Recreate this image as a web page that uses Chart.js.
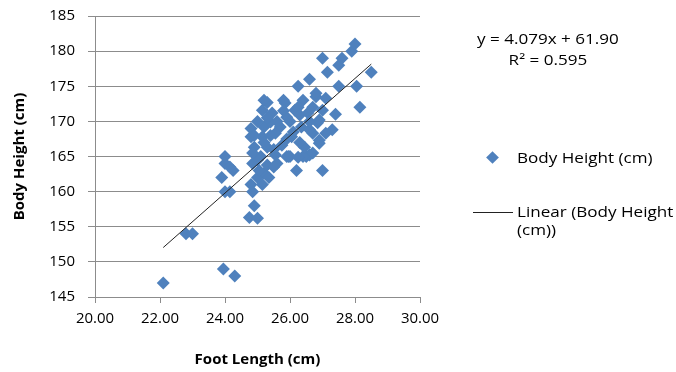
<!DOCTYPE html>
<html>
<head>
<meta charset="utf-8">
<script src="https://cdn.jsdelivr.net/npm/chart.js@4"></script>
<style>
  body { margin: 0; background: #fff; }
  #wrap { position: relative; width: 676px; height: 372px; font-family: "Open Sans", sans-serif; color: #000; }
  canvas { position: absolute; left: 0; top: 0; }
  .txt { position: absolute; font-size: 14px; line-height: 18px; white-space: nowrap; transform: scaleX(1.22); transform-origin: 0 0; }
  #equacao { left: 477px; top: 28px; text-align: center; line-height: 21px; }
  #legPonto { left: 488px; top: 153px; width: 9px; height: 9px; background: #4F81BD; transform: rotate(45deg); position: absolute; }
  #legLinha { left: 473px; top: 212px; width: 40px; height: 1px; background: #222; position: absolute; }
</style>
</head>
<body>
<div id="wrap">
  <canvas id="grafico" width="676" height="372"></canvas>
  <div class="txt" id="equacao">y = 4.079x + 61.90<br>R² = 0.595</div>
  <div id="legPonto"></div>
  <div class="txt" style="left:517px; top:149px;">Body Height (cm)</div>
  <div id="legLinha"></div>
  <div class="txt" style="left:517px; top:203px;">Linear (Body Height<br>(cm))</div>
</div>
<script>
// comprimento do pe (cm)
const comprimentoPe = [
  22.1, 22.8, 23.0, 23.95, 24.3, 24.0, 24.0, 24.25, 24.15, 23.9,
  24.0, 24.15, 24.75, 25.0, 24.9, 24.85, 24.8, 25.15, 25.0, 25.2,
  24.85, 25.3, 25.6, 25.5, 25.95, 25.9, 26.0, 26.2, 27.0, 26.5,
  26.6, 26.4, 26.7, 24.8, 25.3, 25.85, 26.4, 26.8, 25.15, 25.45,
  26.15, 26.55, 27.0, 25.2, 25.7, 26.35, 26.85, 24.8, 25.15, 25.55,
  26.05, 26.7, 24.9, 25.3, 25.75, 26.45, 26.9, 25.55, 26.25, 25.2,
  25.8, 26.25, 26.7, 27.4, 28.15, 26.8, 27.1, 26.25, 27.5, 28.05,
  26.6, 27.15, 28.5, 27.5, 27.0, 27.6, 27.9, 28.0, 27.3, 27.1,
  26.9, 26.6, 25.4, 25.9, 26.3, 26.9, 24.9, 25.0, 25.1, 25.0,
  25.2, 25.3, 25.4, 25.6, 25.5, 26.0, 26.1, 26.3, 26.6, 25.8,
  25.9, 24.85, 25.05, 25.35
];
// altura do corpo (cm)
const alturaCorpo = [
  147, 154, 154, 149, 148, 165, 164, 163, 163.5, 162,
  160, 160, 156.3, 156.2, 158, 160, 161, 161, 162, 162.6,
  164, 163.8, 164, 163.5, 165, 165, 165, 163, 163, 165,
  165.2, 165, 165.5, 169, 172.7, 172.6, 173, 173.5, 171.6, 171.2,
  171.6, 171.2, 171.6, 169.2, 169.2, 169.2, 169.8, 167.8, 167.8, 168.3,
  167.8, 168.3, 166.3, 166.3, 166.6, 166.3, 166.9, 165.2, 164.9, 173,
  173, 172, 172, 171, 172, 174, 173.3, 175, 175, 175,
  176, 177, 177, 178, 179, 179, 180, 181, 168.8, 168.3,
  167.3, 168.8, 169.9, 170.6, 170.9, 170.2, 168, 170, 165, 164.5,
  167, 170.5, 168, 170, 166, 170, 168.5, 167, 170, 171.5,
  167.5, 165.5, 163, 162
];
// linha de tendencia do grafico original
const inclinacao = 4.079;
const intercepto = 61.90;

const pontos = comprimentoPe.map((x, i) => ({ x: x, y: alturaCorpo[i] }));
const xMin = Math.min(...comprimentoPe);
const xMax = Math.max(...comprimentoPe);
const linha = [
  { x: xMin, y: inclinacao * xMin + intercepto },
  { x: xMax, y: inclinacao * xMax + intercepto }
];

const corGrade = '#8c8c8c';
const fonteTicks = { family: '"Open Sans", sans-serif', size: 15 };
const fonteTitulo = { family: '"Open Sans", sans-serif', size: 15, weight: 'bold' };

new Chart(document.getElementById('grafico'), {
  type: 'scatter',
  data: {
    datasets: [
      {
        label: 'Body Height (cm)',
        data: pontos,
        pointStyle: 'rectRot',
        pointRadius: 6.5,
        backgroundColor: '#4F81BD',
        borderColor: '#4F81BD',
        borderWidth: 0,
        order: 1
      },
      {
        type: 'line',
        label: 'Linear (Body Height (cm))',
        data: linha,
        borderColor: '#222222',
        borderWidth: 1,
        pointRadius: 0,
        fill: false,
        order: 0
      }
    ]
  },
  options: {
    responsive: false,
    animation: false,
    layout: { padding: { top: 16, right: 256, left: 0, bottom: 0 } },
    plugins: { legend: { display: false }, tooltip: { enabled: false } },
    scales: {
      x: {
        type: 'linear',
        min: 20, max: 30,
        ticks: { stepSize: 2, color: '#000', font: fonteTicks, padding: 7, callback: v => v.toFixed(2) },
        grid: { drawOnChartArea: false, color: corGrade, tickLength: 6 },
        border: { color: corGrade },
        title: { display: true, text: 'Foot Length (cm)', color: '#000', font: fonteTitulo, padding: { top: 3, bottom: 3 } },
        afterFit: s => { s.height = 75; s.paddingLeft = 0; s.paddingRight = 0; }
      },
      y: {
        min: 145, max: 185,
        ticks: { stepSize: 5, color: '#000', font: fonteTicks, padding: 13 },
        grid: { color: corGrade, tickLength: 7 },
        border: { color: corGrade },
        title: { display: true, text: 'Body Height (cm)', color: '#000', font: fonteTitulo, padding: { top: 11, bottom: 0 } },
        afterFit: s => { s.width = 95; s.paddingTop = 0; s.paddingBottom = 0; }
      }
    }
  }
});
</script>
</body>
</html>
